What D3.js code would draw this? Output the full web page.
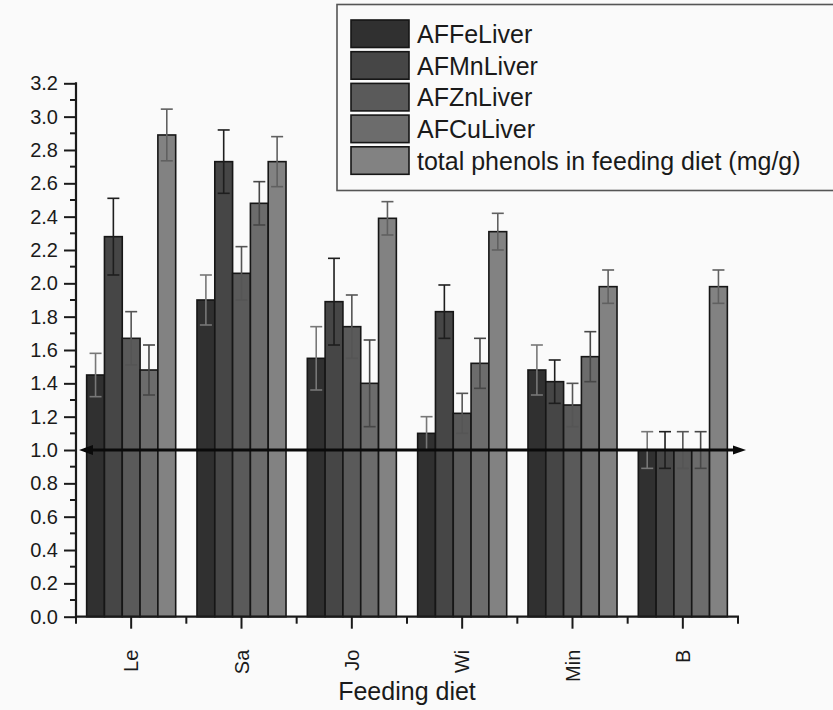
<!DOCTYPE html>
<html>
<head>
<meta charset="utf-8">
<script src="https://cdn.jsdelivr.net/npm/d3@7"></script>
<style>
  html, body { margin: 0; padding: 0; background: #fafafa; }
  svg { display: block; font-family: "Liberation Sans", Arial, Helvetica, sans-serif; }
</style>
</head>
<body>
<svg id="chart" width="833" height="710"></svg>
<script>
// Feeding diets (x categories)
const diets = ["Le", "Sa", "Jo", "Wi", "Min", "B"];

// Series names shown in the legend
const seriesNames = ["AFFeLiver", "AFMnLiver", "AFZnLiver", "AFCuLiver", "total phenols in feeding diet (mg/g)"];

// Mean values per diet, one array per series
const feLiver  = [1.45, 1.90, 1.55, 1.10, 1.48, 1.00];
const mnLiver  = [2.28, 2.73, 1.89, 1.83, 1.41, 1.00];
const znLiver  = [1.67, 2.06, 1.74, 1.22, 1.27, 1.00];
const cuLiver  = [1.48, 2.48, 1.40, 1.52, 1.56, 1.00];
const phenols  = [2.89, 2.73, 2.39, 2.31, 1.98, 1.98];

// Error bar half-widths per diet
const feErr = [0.13, 0.15, 0.19, 0.10, 0.15, 0.11];
const mnErr = [0.23, 0.19, 0.26, 0.16, 0.13, 0.11];
const znErr = [0.16, 0.16, 0.19, 0.12, 0.13, 0.11];
const cuErr = [0.15, 0.13, 0.26, 0.15, 0.15, 0.11];
const phErr = [0.155, 0.15, 0.10, 0.11, 0.10, 0.10];

// Y axis tick values and the reference level
const yTicks = [0.0, 0.2, 0.4, 0.6, 0.8, 1.0, 1.2, 1.4, 1.6, 1.8, 2.0, 2.2, 2.4, 2.6, 2.8, 3.0, 3.2];
const refLevel = 1.0;

const seriesValues = [feLiver, mnLiver, znLiver, cuLiver, phenols];
const seriesErrors = [feErr, mnErr, znErr, cuErr, phErr];
const fills = ["#303030", "#464646", "#5a5a5a", "#6c6c6c", "#828282"];
const errColors = ["#777777", "#1e1e1e", "#555555", "#474747", "#606060"];

const svg = d3.select("#chart");
const plotLeft = 76, plotRight = 738, plotTop = 83.3, plotBottom = 616.7;

const y = d3.scaleLinear().domain([0, 3.2]).range([plotBottom, plotTop]);
const x = d3.scaleBand().domain(diets).range([plotLeft, plotRight])
  .paddingInner(0.193).paddingOuter(0.0965);
const xs = d3.scaleBand().domain(d3.range(seriesNames.length)).range([0, x.bandwidth()]).padding(0);

// Bars
const rows = [];
seriesValues.forEach((vals, s) => vals.forEach((v, i) => rows.push({ s, diet: diets[i], v, e: seriesErrors[s][i] })));

svg.append("g").selectAll("rect").data(rows).join("rect")
  .attr("x", d => x(d.diet) + xs(d.s))
  .attr("y", d => y(d.v))
  .attr("width", xs.bandwidth())
  .attr("height", d => y(0) - y(d.v))
  .attr("fill", d => fills[d.s])
  .attr("stroke", "#161616")
  .attr("stroke-width", 1.6);

// Error bars
const eg = svg.append("g").selectAll("g").data(rows).join("g")
  .attr("stroke", d => errColors[d.s]).attr("stroke-width", 1.6).attr("fill", "none");
eg.append("line")
  .attr("x1", d => x(d.diet) + xs(d.s) + xs.bandwidth() / 2)
  .attr("x2", d => x(d.diet) + xs(d.s) + xs.bandwidth() / 2)
  .attr("y1", d => y(d.v + d.e)).attr("y2", d => y(d.v - d.e));
[1, -1].forEach(sign => {
  eg.append("line")
    .attr("x1", d => x(d.diet) + xs(d.s) + xs.bandwidth() / 2 - 6)
    .attr("x2", d => x(d.diet) + xs(d.s) + xs.bandwidth() / 2 + 6)
    .attr("y1", d => y(d.v + sign * d.e)).attr("y2", d => y(d.v + sign * d.e));
});

// Y axis with major labels and minor ticks
const yAxis = svg.append("g").attr("transform", `translate(${plotLeft},0)`)
  .call(d3.axisLeft(y).tickValues(yTicks).tickFormat(d3.format(".1f")).tickSize(12).tickPadding(6));
yAxis.select(".domain").remove();
yAxis.selectAll(".tick line").attr("stroke", "#1a1a1a").attr("stroke-width", 2);
yAxis.selectAll(".tick text").attr("font-size", 20).attr("fill", "#1a1a1a")
  .attr("font-family", "'Liberation Sans', Arial, sans-serif");
const yMinor = d3.range(0.1, 3.2, 0.2);
svg.append("g").selectAll("line").data(yMinor).join("line")
  .attr("x1", plotLeft - 6).attr("x2", plotLeft)
  .attr("y1", d => y(d)).attr("y2", d => y(d))
  .attr("stroke", "#1a1a1a").attr("stroke-width", 2);
svg.append("line").attr("x1", plotLeft).attr("x2", plotLeft).attr("y1", y(3.2) - 1).attr("y2", plotBottom + 1)
  .attr("stroke", "#1a1a1a").attr("stroke-width", 2.2);

// X axis: major ticks at diet centres, minor ticks at slot boundaries
const xAxis = svg.append("g").attr("transform", `translate(0,${plotBottom})`)
  .call(d3.axisBottom(x).tickSize(12).tickPadding(0));
xAxis.select(".domain").remove();
xAxis.selectAll(".tick line").attr("stroke", "#1a1a1a").attr("stroke-width", 2);
xAxis.selectAll(".tick text")
  .attr("font-size", 20).attr("fill", "#1a1a1a")
  .attr("font-family", "'Liberation Sans', Arial, sans-serif")
  .attr("text-anchor", "end")
  .attr("transform", "translate(7,33) rotate(-90)")
  .attr("x", 0).attr("y", 0).attr("dy", 0);
const step = x.step();
svg.append("g").selectAll("line").data(d3.range(diets.length + 1)).join("line")
  .attr("x1", i => plotLeft + i * step).attr("x2", i => plotLeft + i * step)
  .attr("y1", plotBottom).attr("y2", plotBottom + 7)
  .attr("stroke", "#1a1a1a").attr("stroke-width", 2);
svg.append("line").attr("x1", plotLeft - 1).attr("x2", plotRight + 1).attr("y1", plotBottom).attr("y2", plotBottom)
  .attr("stroke", "#1a1a1a").attr("stroke-width", 2.2);

svg.append("text").attr("x", (plotLeft + plotRight) / 2).attr("y", 700)
  .attr("text-anchor", "middle").attr("font-size", 25).attr("fill", "#1a1a1a")
  .text("Feeding diet");

// Reference line at 1.0 with arrowheads on both ends
const ry = y(refLevel);
const refG = svg.append("g");
refG.append("line").attr("x1", 84).attr("x2", 740).attr("y1", ry).attr("y2", ry)
  .attr("stroke", "#0a0a0a").attr("stroke-width", 3);
refG.append("path").attr("d", `M79,${ry} L93,${ry - 5} L93,${ry + 5} Z`).attr("fill", "#0a0a0a");
refG.append("path").attr("d", `M746,${ry} L733,${ry - 4.5} L733,${ry + 4.5} Z`).attr("fill", "#0a0a0a");

// Legend
const lg = svg.append("g");
lg.append("rect").attr("x", 337).attr("y", 4.5).attr("width", 520).attr("height", 186)
  .attr("fill", "#fafafa").attr("stroke", "#555").attr("stroke-width", 1.6);
const items = lg.selectAll("g.item").data(seriesNames).join("g").attr("class", "item")
  .attr("transform", (d, i) => `translate(351,${20 + i * 31.7})`);
items.append("rect").attr("width", 58).attr("height", 27.5)
  .attr("fill", (d, i) => fills[i]).attr("stroke", "#161616").attr("stroke-width", 1.6);
items.append("text").attr("x", 66).attr("y", 23).attr("font-size", 25).attr("fill", "#1a1a1a")
  .text(d => d);
</script>
</body>
</html>
